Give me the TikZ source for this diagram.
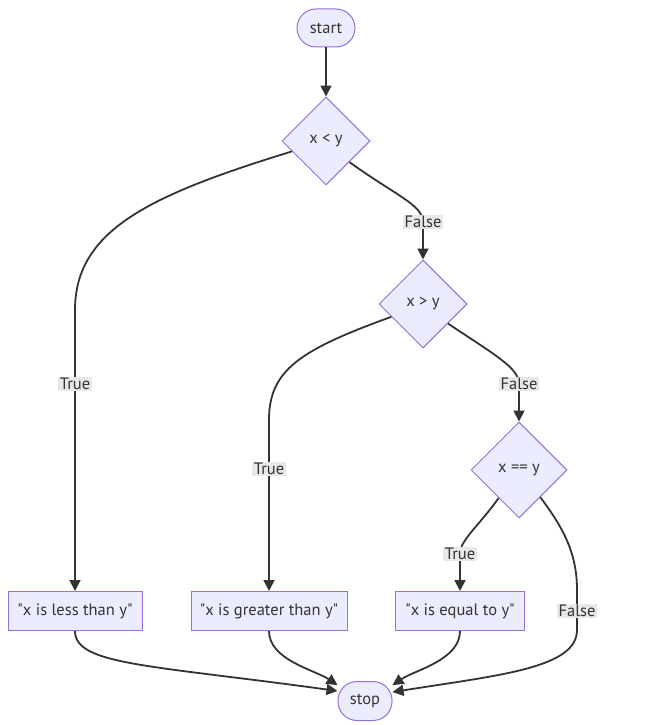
\documentclass[tikz,border=0pt]{standalone}
\usepackage{fontspec}
\setmainfont{PT Sans}[Ligatures=TeXOff]
\usetikzlibrary{shapes.geometric,arrows.meta}
\definecolor{nodefill}{HTML}{ECECFF}
\definecolor{nodeline}{HTML}{9370DB}
\definecolor{edgec}{HTML}{333333}
\definecolor{lblbg}{HTML}{E8E8E8}
\begin{document}
\begin{tikzpicture}[x=1pt,y=-1pt,
  every node/.style={font=\fontsize{16.5}{18}\selectfont, text=edgec},
  box/.style={draw=nodeline, fill=nodefill, line width=1pt, minimum height=39pt, inner sep=0pt},
  dec/.style={diamond, aspect=1, draw=nodeline, fill=nodefill, line width=1pt, minimum width=88pt, minimum height=88pt, inner sep=0pt},
  term/.style={draw=nodeline, fill=nodefill, line width=1pt, rounded corners=19pt, minimum height=38pt, inner sep=0pt},
  conn/.style={draw=edgec, line width=1.8pt, -{Triangle[length=11pt,width=11pt]}},
  lbl/.style={fill=lblbg, inner sep=1.5pt}]
\useasboundingbox (0,0) rectangle (659,725);

\node[term, minimum width=58pt] (start) at (326,28) {start};
\node[dec] (xl) at (326,141) {x < y};
\node[dec] (xg) at (423,304) {x > y};
\node[dec, minimum width=96pt, minimum height=96pt] (xe) at (519,470) {x == y};
\node[box, minimum width=134pt] (lt) at (75,611) {\textquotedbl x is less than y\textquotedbl};
\node[box, minimum width=156pt] (gt) at (269,611) {\textquotedbl x is greater than y\textquotedbl};
\node[box, minimum width=129pt] (et) at (460,611) {\textquotedbl x is equal to y\textquotedbl};
\node[term, minimum width=54pt, minimum height=39pt] (stop) at (365,701) {stop};

\draw[conn] (start) -- (xl);
\draw[conn] (xl.197) .. controls (150,195) and (75,230) .. (75,310) -- (75,384) node[lbl]{True} -- (lt.north);
\draw[conn] (xl.318) .. controls (395,195) and (423,205) .. (423,222) node[lbl]{False} -- (xg.north);
\draw[conn] (xg.202) .. controls (300,350) and (269,370) .. (269,420) -- (269,469) node[lbl]{True} -- (gt.north);
\draw[conn] (xg.322) .. controls (495,355) and (519,368) .. (519,384) node[lbl]{False} -- (xe.north);
\draw[conn] (xe.234) .. controls (478,527) and (460,540) .. (460,554) node[lbl]{True} -- (et.north);
\draw[conn] (xe.308) .. controls (565,530) and (577,555) .. (577,590) -- (577,611) node[lbl]{False} -- (577,630) .. controls (577,668) and (500,675) .. (stop.18);
\draw[conn] (lt.south) .. controls (75,665) and (150,665) .. (stop.160);
\draw[conn] (gt.south) .. controls (269,660) and (315,670) .. (stop.150);
\draw[conn] (et.south) .. controls (460,660) and (415,670) .. (stop.30);
\end{tikzpicture}
\end{document}
